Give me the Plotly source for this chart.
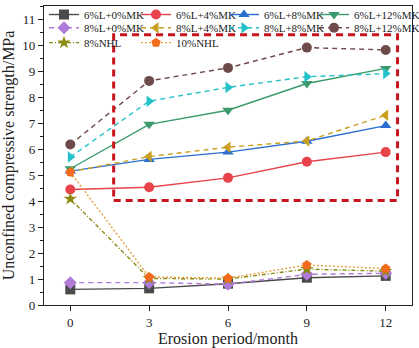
import plotly.graph_objects as go

# Erosion period (months)
months = [0, 3, 6, 9, 12]

# Unconfined compressive strength (MPa) for each mix
l6_mk0 = [0.60, 0.64, 0.82, 1.05, 1.12]
l6_mk4 = [4.44, 4.53, 4.89, 5.51, 5.88]
l6_mk8 = [5.15, 5.60, 5.88, 6.30, 6.90]
l6_mk12 = [5.24, 6.95, 7.49, 8.52, 9.10]
l8_mk0 = [0.86, 0.86, 0.80, 1.18, 1.22]
l8_mk4 = [5.12, 5.71, 6.07, 6.31, 7.30]
l8_mk8 = [5.69, 7.84, 8.37, 8.78, 8.90]
l8_mk12 = [6.17, 8.62, 9.12, 9.90, 9.81]
nhl8 = [4.08, 1.02, 1.00, 1.38, 1.30]
nhl10 = [5.11, 1.08, 1.03, 1.54, 1.40]

# name, values, line colour, marker colour, dash, symbol, legend (row, column)
series = [
    ("6%L+0%MK", l6_mk0, "#4a4a4a", "#4a4a4a", "solid", "square", (0, 0)),
    ("6%L+4%MK", l6_mk4, "#e8434a", "#e8434a", "solid", "circle", (0, 1)),
    ("6%L+8%MK", l6_mk8, "#2a6fd0", "#2a6fd0", "solid", "triangle-up", (0, 2)),
    ("6%L+12%MK", l6_mk12, "#3b9a6c", "#3b9a6c", "solid", "triangle-down", (0, 3)),
    ("8%L+0%MK", l8_mk0, "#b07ad8", "#b07ad8", "5px,4px", "diamond", (1, 0)),
    ("8%L+4%MK", l8_mk4, "#c9a020", "#c9a020", "5px,4px", "triangle-left", (1, 1)),
    ("8%L+8%MK", l8_mk8, "#22c2c8", "#22c2c8", "5px,4px", "triangle-right", (1, 2)),
    ("8%L+12%MK", l8_mk12, "#6e4a4a", "#6e4a4a", "5px,4px", "circle", (1, 3)),
    ("8%NHL", nhl8, "#8a8a12", "#8a8a12", "4px,2px,1px,2px", "star", (2, 0)),
    ("10%NHL", nhl10, "#e8a040", "#f26a1b", "2px,2px", "pentagon", (2, 1)),
]

font_family = "Liberation Serif"

# Legend grid: each entry gets its own legend box on a 3-row, 4-column grid
col_x = [0.0, 92 / 368, 180 / 368, 270 / 368]
row_y = [1.02, 0.976, 0.926]

fig = go.Figure()
legend_layouts = {}
for i, (name, vals, lcol, mcol, dash, sym, (r, c)) in enumerate(series):
    key = "legend" if i == 0 else f"legend{i + 1}"
    fig.add_trace(go.Scatter(
        x=months, y=vals, name=name, mode="lines+markers", legend=key,
        line=dict(color=lcol, width=1.4, dash=dash),
        marker=dict(color=mcol, symbol=sym, size=10, line=dict(width=0)),
    ))
    legend_layouts[key] = dict(
        orientation="h", x=col_x[c], y=row_y[r], xanchor="left", yanchor="top",
        itemwidth=30, bgcolor="rgba(0,0,0,0)",
        font=dict(size=11, family=font_family),
    )

# Highlight box around the lime/metakaolin group
box_x0, box_x1 = 1.65, 12.45
box_y0, box_y1 = 4.02, 10.39
fig.add_shape(type="rect", xref="x", yref="y",
              x0=box_x0, x1=box_x1, y0=box_y0, y1=box_y1,
              line=dict(color="#c8141e", width=3, dash="7px,5px"),
              fillcolor="rgba(0,0,0,0)")

fig.update_layout(
    width=419, height=348,
    margin=dict(l=44, r=7, t=6, b=43, autoexpand=False),
    paper_bgcolor="white", plot_bgcolor="white",
    font=dict(family=font_family, color="#222222", size=13),
    showlegend=True,
    **legend_layouts,
    xaxis=dict(
        range=[-1, 13], tickvals=[0, 3, 6, 9, 12],
        showline=True, linecolor="#222222", linewidth=1.2, mirror=True,
        ticks="outside", ticklen=5, tickcolor="#222222",
        showgrid=False, zeroline=False,
        title=dict(text="Erosion period/month", font=dict(size=16), standoff=4),
        tickfont=dict(size=13, family=font_family),
    ),
    yaxis=dict(
        range=[0, 11.5], dtick=1,
        showline=True, linecolor="#222222", linewidth=1.2, mirror=True,
        ticks="outside", ticklen=5, tickcolor="#222222",
        minor=dict(dtick=0.5, ticks="outside", ticklen=3, tickcolor="#222222"),
        showgrid=False, zeroline=False,
        title=dict(text="Unconfined compressive strength/MPa", font=dict(size=16), standoff=4),
        tickfont=dict(size=13, family=font_family),
    ),
)

fig.write_html("out.html")
